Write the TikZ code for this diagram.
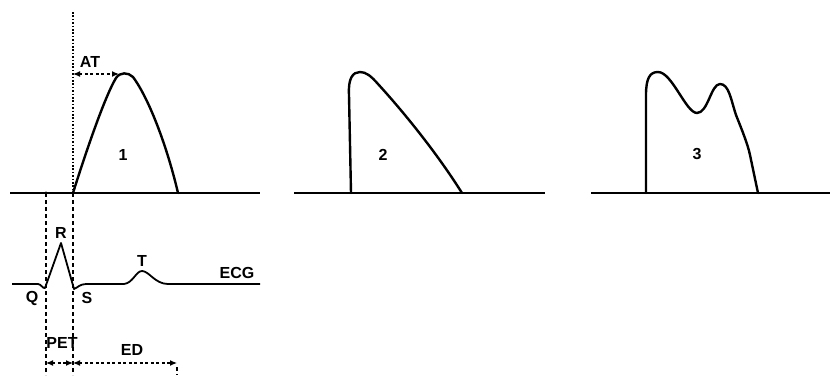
\documentclass[tikz,border=0pt]{standalone}
\usepackage{fontspec}
\setmainfont{Liberation Sans}
\usetikzlibrary{arrows.meta}
\tikzset{
  curve/.style={line width=2.4pt, line join=round, line cap=round},
  base/.style={line width=2pt},
  ecgline/.style={line width=1.8pt, line join=round},
  guide/.style={line width=1.2pt, dash pattern=on 4pt off 3pt},
  guidedot/.style={line width=1.6pt, dash pattern=on 1.6pt off 1.8pt},
  dimarrow/.style={line width=1.2pt, dash pattern=on 3pt off 2.5pt, {Latex[length=7pt,width=6pt]}-{Latex[length=7pt,width=6pt]}},
  lbl/.style={font=\fontsize{16}{18}\selectfont\bfseries, inner sep=0pt}
}
\begin{document}
\begin{tikzpicture}[x=1pt,y=-1pt]
\useasboundingbox (0,0) rectangle (830,375);
% baselines
\draw[base] (10,193) -- (260,193);
\draw[base] (294,193) -- (545,193);
\draw[base] (591,193) -- (830,193);
% guide lines
\coordinate (g1t) at (73,12);
\coordinate (g1b) at (73,193);
\coordinate (g1e) at (73,375);
\coordinate (g0t) at (46,193);
\coordinate (g0e) at (46,375);
\draw[guidedot] (g1t) -- (g1b);
\draw[guide] (g1b) -- (g1e);
\draw[guide] (g0t) -- (g0e);
\fill (g0t) circle (1.6pt);
% curve 1
\draw[curve] (73,193) .. controls (84,158) and (104,98) .. (116,78)
  .. controls (120,72) and (128,72) .. (133,77)
  .. controls (150,100) and (168,150) .. (178,193);
\coordinate (at1) at (73,74);
\coordinate (at2) at (119,74);
\draw[dimarrow] (at1) -- (at2);
\node[lbl] (AT) at (90,62) {AT};
\node[lbl] (n1) at (123,155) {1};
% curve 2
\draw[curve] (351,193) -- (349,95) .. controls (348,78) and (353,72) .. (360,72)
  .. controls (366,72) and (371,76) .. (378,84)
  .. controls (400,108) and (435,150) .. (462,193);
\node[lbl] (n2) at (383,155) {2};
% curve 3
\draw[curve] (646,193) -- (646,95) .. controls (646,78) and (650,72) .. (658,72)
  .. controls (672,72) and (686,113) .. (697,113)
  .. controls (708,113) and (711,84) .. (720,84)
  .. controls (729,84) and (731,100) .. (736,115)
  .. controls (742,130) and (748,145) .. (750,155)
  -- (758,193);
\node[lbl] (n3) at (697,154) {3};
% ECG
\draw[ecgline] (12,284) -- (38,284) .. controls (41,284) and (43,289) .. (45,288)
  -- (61,243) -- (74,289) .. controls (77,288) and (80,284) .. (86,284)
  -- (124,284) .. controls (133,283) and (136,271) .. (142,271)
  .. controls (149,271) and (155,284) .. (168,284) -- (260,284);
\node[lbl] (Q) at (32,298) {Q};
\node[lbl] (R) at (61,233) {R};
\node[lbl] (S) at (87,298) {S};
\node[lbl] (T) at (142,261) {T};
\node[lbl] (ECG) at (237,273) {ECG};
% PET and ED
\coordinate (p1) at (46,363);
\coordinate (p2) at (73,363);
\coordinate (p3) at (177,363);
\coordinate (p4) at (177,367);
\coordinate (p5) at (177,375);
\draw[dimarrow] (p1) -- (p2);
\draw[dimarrow] (p2) -- (p3);
\draw[guide] (p4) -- (p5);
\node[lbl] (PET) at (62,343) {PET};
\node[lbl] (ED) at (132,350) {ED};
\end{tikzpicture}
\end{document}
